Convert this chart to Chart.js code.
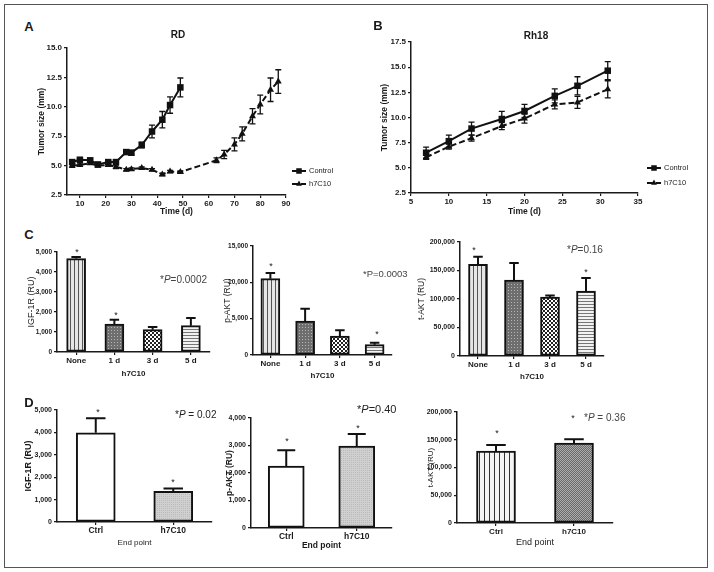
<!DOCTYPE html>
<html>
<head>
<meta charset="utf-8">
<script src="https://cdn.jsdelivr.net/npm/chart.js@4.4.1/dist/chart.umd.min.js"></script>
<style>
body { margin: 0; background: #fff; }
#fig { position: relative; width: 714px; height: 572px; overflow: hidden; font-family: "Liberation Sans", Arial, sans-serif; }
#frame { position: absolute; left: 4px; top: 4px; width: 702px; height: 562px; border: 1px solid #555; }
canvas { position: absolute; }
.t { position: absolute; white-space: nowrap; transform: translate(-50%, -50%); color: #1a1a1a; line-height: 1; }
.l { position: absolute; white-space: nowrap; transform: translate(0, -50%); color: #444; line-height: 1; }
</style>
</head>
<body>
<div id="fig">
  <div id="frame"></div>
  <canvas id="cA"></canvas>
  <canvas id="cB"></canvas>
  <canvas id="cC1"></canvas>
  <canvas id="cC2"></canvas>
  <canvas id="cC3"></canvas>
  <canvas id="cD1"></canvas>
  <canvas id="cD2"></canvas>
  <canvas id="cD3"></canvas>
</div>
<script>
// panel A - RD
const aCtrlDays = [7, 10, 14, 17, 21, 24, 28, 30, 34, 38, 42, 45, 49];
const aCtrlSize = [5.3, 5.5, 5.45, 5.1, 5.3, 5.3, 6.15, 6.1, 6.75, 7.9, 8.9, 10.15, 11.65];
const aCtrlErr = [0.15, 0.1, 0.15, 0.15, 0.15, 0.15, 0.15, 0.2, 0.25, 0.55, 0.7, 0.7, 0.8];
const aH7Days = [7, 10, 14, 17, 21, 24, 28, 30, 34, 38, 42, 45, 49, 63, 66, 70, 73, 77, 80, 84, 87];
const aH7Size = [5.0, 5.05, 5.2, 5.0, 5.05, 4.9, 4.65, 4.7, 4.8, 4.65, 4.25, 4.5, 4.45, 5.45, 5.95, 6.8, 7.7, 9.2, 10.2, 11.45, 12.15];
const aH7Err = [0.15, 0.1, 0.1, 0.1, 0.1, 0.15, 0.1, 0.1, 0.1, 0.1, 0.1, 0.1, 0.1, 0.2, 0.35, 0.55, 0.6, 0.65, 0.8, 1.0, 1.0];
const aTicksX = [10, 20, 30, 40, 50, 60, 70, 80, 90];

// panel B - Rh18
const bDays = [7, 10, 13, 17, 20, 24, 27, 31];
const bCtrlSize = [6.5, 7.65, 8.9, 9.85, 10.65, 12.15, 13.15, 14.65];
const bCtrlErr = [0.55, 0.6, 0.65, 0.75, 0.65, 0.7, 0.9, 0.9];
const bH7Size = [6.05, 7.1, 7.95, 9.15, 9.9, 11.3, 11.5, 12.8];
const bH7Err = [0.2, 0.25, 0.3, 0.35, 0.45, 0.45, 0.6, 0.85];
const bTicksX = [5, 10, 15, 20, 25, 30, 35];

// panel C
const cGroups = ['None', '1 d', '3 d', '5 d'];
const cIgf = [4670, 1400, 1115, 1315];
const cIgfErr = [80, 210, 135, 385];
const cPakt = [10500, 4680, 2600, 1420];
const cPaktErr = [800, 1700, 800, 280];
const cTakt = [161000, 133000, 103500, 114000];
const cTaktErr = [13000, 30000, 2500, 23000];

// panel D
const dGroups = ['Ctrl', 'h7C10'];
const dIgf = [3985, 1373];
const dIgfErr = [645, 117];
const dPakt = [2256, 2976];
const dPaktErr = [574, 439];
const dTakt = [129700, 144000];
const dTaktErr = [10800, 7000];

const FONT = '"Liberation Sans", Arial, sans-serif';
Chart.defaults.font.family = FONT;
Chart.defaults.color = '#1a1a1a';

function pat(w, h, bg, fg, cells) {
    let c = document.createElement('canvas');
    c.width = w; c.height = h;
    let g = c.getContext('2d');
    g.fillStyle = bg; g.fillRect(0, 0, w, h);
    g.fillStyle = fg;
    cells.forEach(r => g.fillRect(r[0], r[1], r[2], r[3]));
    return g.createPattern(c, 'repeat');
}
const vStripe = pat(4, 1, '#e6e6e6', '#555', [[0, 0, 1, 1]]);
const darkDots = pat(3, 3, '#6e6e6e', '#b4b4b4', [[1, 1, 1, 1]]);
const checker = pat(4, 4, '#fff', '#222', [[0, 0, 2, 2], [2, 2, 2, 2]]);
const hStripe = pat(1, 3, '#f2f2f2', '#777', [[0, 0, 1, 1]]);
const lightGray = pat(2, 2, '#d0d0d0', '#b9b9b9', [[0, 0, 1, 1]]);
const wideStripe = pat(5, 1, '#f4f4f4', '#333', [[0, 0, 1, 1]]);
const darkChecker = pat(2, 2, '#6a6a6a', '#ababab', [[0, 0, 1, 1], [1, 1, 1, 1]]);

// error bars: up and down for lines, only up for bars
const errorBars = {
    id: 'errorBars',
    afterDatasetsDraw(chart) {
        const ctx = chart.ctx, ys = chart.scales.y, isBar = chart.config.type === 'bar';
        chart.data.datasets.forEach((ds, di) => {
            if (!ds.errs) return;
            chart.getDatasetMeta(di).data.forEach((el, i) => {
                const v = isBar ? ds.data[i] : ds.data[i].y;
                const e = ds.errs[i];
                const top = ys.getPixelForValue(v + e);
                const bot = isBar ? el.y : ys.getPixelForValue(v - e);
                const cap = isBar ? el.width / 4 : 3;
                ctx.save();
                ctx.strokeStyle = '#111';
                ctx.lineWidth = isBar ? 2 : 1.3;
                ctx.beginPath();
                ctx.moveTo(el.x, top); ctx.lineTo(el.x, bot);
                ctx.moveTo(el.x - cap, top); ctx.lineTo(el.x + cap, top);
                if (!isBar) { ctx.moveTo(el.x - cap, bot); ctx.lineTo(el.x + cap, bot); }
                ctx.stroke();
                ctx.restore();
            });
        });
    }
};

// line + marker key drawn to the right of the plot
const lineKey = {
    id: 'lineKey',
    afterDraw(chart, args, opts) {
        if (!opts.rows) return;
        const ctx = chart.ctx, a = chart.chartArea;
        opts.rows.forEach((r, i) => {
            const ds = chart.data.datasets[i];
            const y = a.top + r, x0 = a.right + opts.dx;
            ctx.save();
            ctx.strokeStyle = '#111'; ctx.fillStyle = '#111'; ctx.lineWidth = 2;
            ctx.setLineDash(ds.borderDash || []);
            ctx.beginPath(); ctx.moveTo(x0, y); ctx.lineTo(x0 + 14, y); ctx.stroke();
            ctx.setLineDash([]);
            Chart.helpers.drawPoint(ctx, { pointStyle: ds.pointStyle, radius: ds.pointRadius * 0.85, borderWidth: 0 }, x0 + 7, y);
            ctx.fillStyle = '#222';
            ctx.font = '7.5px ' + FONT;
            ctx.textBaseline = 'middle';
            ctx.fillText(ds.label, x0 + 17, y);
            ctx.restore();
        });
    }
};
Chart.register(errorBars, lineKey);

const PADL = 12;

// place a canvas so that its plot area lands on box = [left, top, right, bottom]
function fit(id, box, W, H, padTop, padRight) {
    let c = document.getElementById(id);
    c.width = PADL + W + box[2] - box[0] + padRight;
    c.height = padTop + box[3] - box[1] + H;
    c.style.left = (box[0] - W - PADL) + 'px';
    c.style.top = (box[1] - padTop) + 'px';
    return c;
}

function axisStyle(size, weight) {
    return {
        grid: { drawOnChartArea: false, tickLength: 3, color: '#1a1a1a', lineWidth: 1.2, offset: false },
        border: { color: '#1a1a1a', width: 1.5 },
        tickFont: { size: size, weight: weight || 'bold' }
    };
}

function yScale(min, max, step, fmt, size, title, tfont, W) {
    let s = axisStyle(size);
    return {
        type: 'linear', min: min, max: max,
        ticks: { stepSize: step, callback: fmt, font: s.tickFont, color: '#1a1a1a', padding: 2 },
        grid: s.grid, border: s.border,
        title: { display: true, text: title, font: tfont, color: '#1a1a1a', padding: 0 },
        afterFit: sc => { sc.width = W; }
    };
}

function baseOptions(padTop, padRight) {
    return {
        responsive: false, animation: false, devicePixelRatio: 1,
        layout: { padding: { left: PADL, top: padTop, right: padRight, bottom: 0 } },
        plugins: { legend: { display: false }, tooltip: { enabled: false } }
    };
}

function lineChart(id, box, tx, ty, tsize, xMin, xMax, xTicks, yMax, ctrl, h7, keyRows, keyDx) {
    const lh = tsize * 1.2;
    const W = Math.round(box[0] - (tx - lh / 2)), H = Math.round(ty + lh / 2 - box[3]);
    const c = fit(id, box, W, H, 10, 70);
    let opts = baseOptions(10, 70);
    opts.plugins.lineKey = { rows: keyRows, dx: keyDx };
    const s = axisStyle(8);
    opts.scales = {
        x: {
            type: 'linear', min: xMin, max: xMax,
            afterBuildTicks: sc => { sc.ticks = xTicks.map(v => ({ value: v })); },
            ticks: { font: s.tickFont, color: '#1a1a1a', padding: 1, maxRotation: 0, autoSkip: false },
            grid: s.grid, border: s.border,
            title: { display: true, text: 'Time (d)', font: { size: tsize, weight: 'bold' }, color: '#1a1a1a', padding: 0 },
            afterFit: sc => { sc.height = H; }
        },
        y: yScale(2.5, yMax, 2.5, v => v.toFixed(1), 8, 'Tumor size (mm)', { size: tsize, weight: 'bold' }, W)
    };
    const common = { borderColor: '#111', borderWidth: 2, pointBackgroundColor: '#111', pointBorderColor: '#111', pointBorderWidth: 0, tension: 0 };
    new Chart(c, {
        type: 'line',
        data: {
            datasets: [
                Object.assign({ label: 'Control', data: ctrl[0].map((d, i) => ({ x: d, y: ctrl[1][i] })), errs: ctrl[2], pointStyle: 'rect', pointRadius: 4.6 }, common),
                Object.assign({ label: 'h7C10', data: h7[0].map((d, i) => ({ x: d, y: h7[1][i] })), errs: h7[2], pointStyle: 'triangle', pointRadius: 4, borderDash: [6, 3] }, common)
            ]
        },
        options: opts
    });
}

function barChart(id, box, tx, ty, yTitle, yTitleFont, xTitle, xTitleFont, labels, vals, errs, fills, yMax, step, tickSize, catFont, thick) {
    const lh = yTitleFont.size * 1.2, lhx = xTitleFont.size * 1.2;
    const W = Math.round(box[0] - (tx - lh / 2)), H = Math.round(ty + lhx / 2 - box[3]);
    const c = fit(id, box, W, H, 10, 12);
    let opts = baseOptions(10, 12);
    const s = axisStyle(tickSize);
    opts.scales = {
        x: {
            type: 'category', offset: true,
            ticks: { font: catFont, color: '#1a1a1a', padding: 1, maxRotation: 0, autoSkip: false },
            grid: s.grid, border: s.border,
            title: { display: true, text: xTitle, font: xTitleFont, color: '#1a1a1a', padding: 0 },
            afterFit: sc => { sc.height = H; }
        },
        y: yScale(0, yMax, step, v => v.toLocaleString('en-US'), tickSize, yTitle, yTitleFont, W)
    };
    new Chart(c, {
        type: 'bar',
        data: {
            labels: labels,
            datasets: [{
                data: vals, errs: errs, backgroundColor: fills,
                borderColor: '#111', borderWidth: 2, borderSkipped: false, barThickness: thick
            }]
        },
        options: opts
    });
}

lineChart('cA', [67, 48, 286, 195], 42, 212, 8.5, 5, 90, aTicksX, 15,
    [aCtrlDays, aCtrlSize, aCtrlErr], [aH7Days, aH7Size, aH7Err], [123, 136], 6);
lineChart('cB', [411, 42, 638, 193], 385, 212, 8.5, 5, 35, bTicksX, 17.5,
    [bDays, bCtrlSize, bCtrlErr], [bDays, bH7Size, bH7Err], [126, 141], 9);

const catBold = { size: 8, weight: 'bold' };
const cFills = [vStripe, darkDots, checker, hStripe];
barChart('cC1', [57, 252, 210, 352], 31, 374, 'IGF-1R (RU)', { size: 9 }, 'h7C10', { size: 8, weight: 'bold' },
    cGroups, cIgf, cIgfErr, cFills, 5000, 1000, 6.5, catBold, 19);
barChart('cC2', [253, 246, 392, 355], 228, 376, 'p-AKT (RU)', { size: 8.5 }, 'h7C10', { size: 8, weight: 'bold' },
    cGroups, cPakt, cPaktErr, cFills, 15000, 5000, 6.5, catBold, 19);
barChart('cC3', [460, 242, 604, 356], 422, 377, 't-AKT (RU)', { size: 8.5 }, 'h7C10', { size: 8, weight: 'bold' },
    cGroups, cTakt, cTaktErr, cFills, 200000, 50000, 7, catBold, 19);
barChart('cD1', [57, 410, 212, 522], 28, 543, 'IGF-1R (RU)', { size: 9, weight: 'bold' }, 'End point', { size: 8 },
    dGroups, dIgf, dIgfErr, ['#fff', lightGray], 5000, 1000, 7, { size: 8.5, weight: 'bold' }, 39);
barChart('cD2', [251, 418, 392, 528], 230, 546, 'p-AKT (RU)', { size: 8.5, weight: 'bold' }, 'End point', { size: 8.5, weight: 'bold' },
    dGroups, dPakt, dPaktErr, ['#fff', lightGray], 4000, 1000, 7, { size: 8.5, weight: 'bold' }, 36);
barChart('cD3', [457, 412, 613, 523], 431, 543, 't-AKT (RU)', { size: 8 }, 'End point', { size: 9 },
    dGroups, dTakt, dTaktErr, [wideStripe, darkChecker], 200000, 50000, 7, { size: 8, weight: 'bold' }, 39);

// panel letters, titles, stars and P values
const labelsCentered = [
    ['A', 29, 26, 'bold 13px'], ['B', 378, 25, 'bold 13px'],
    ['C', 29, 234, 'bold 13px'], ['D', 29, 402, 'bold 13px'],
    ['RD', 178, 34, 'bold 10px'], ['Rh18', 536, 35, 'bold 10px'],
    ['*', 77, 252, '9px'], ['*', 116, 315, '9px'],
    ['*', 271, 266, '9px'], ['*', 377, 334, '9px'],
    ['*', 474, 250, '9px'], ['*', 586, 272, '9px'],
    ['*', 98, 412, '9px'], ['*', 173, 482, '9px'],
    ['*', 287, 441, '9px'], ['*', 358, 428, '9px'],
    ['*', 497, 433, '9px'], ['*', 573, 418, '9px']
];
const labelsLeft = [
    ['*<i>P</i>=0.0002', 160, 279, '10px', '#444'],
    ['*P=0.0003', 363, 273, '9.5px', '#444'],
    ['*<i>P</i>=0.16', 567, 249, '10px', '#444'],
    ['*<i>P</i> = 0.02', 175, 414, '10px', '#222'],
    ['*<i>P</i>=0.40', 357, 409, '11px', '#222'],
    ['*<i>P</i> = 0.36', 584, 417, '10px', '#444']
];
const fig = document.getElementById('fig');
labelsCentered.forEach(t => {
    let d = document.createElement('div');
    d.className = 't';
    d.textContent = t[0];
    d.style.left = t[1] + 'px'; d.style.top = t[2] + 'px';
    d.style.font = t[3] + ' ' + FONT;
    fig.appendChild(d);
});
labelsLeft.forEach(t => {
    let d = document.createElement('div');
    d.className = 'l';
    d.innerHTML = t[0];
    d.style.left = t[1] + 'px'; d.style.top = t[2] + 'px';
    d.style.font = t[3] + ' ' + FONT;
    d.style.color = t[4];
    fig.appendChild(d);
});
</script>
</body>
</html>
